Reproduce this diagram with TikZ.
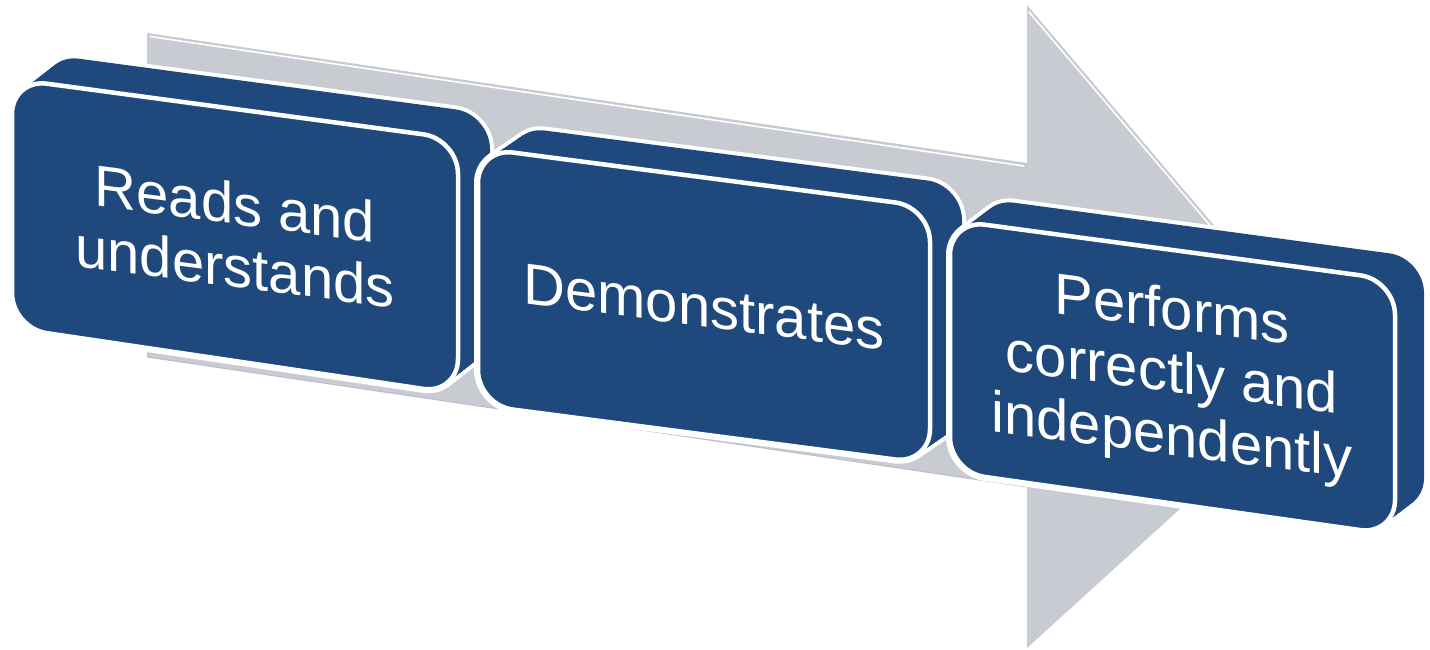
\documentclass[tikz,border=0pt]{standalone}
\usepackage{fontspec}
\setmainfont{Liberation Sans}
\definecolor{boxblue}{HTML}{1F497C}
\definecolor{arrowgrey}{HTML}{C9CBD2}
\definecolor{edgegrey}{HTML}{BDBCCF}
\newcommand\slab[6]{%
  \foreach \i in {0,...,20}{
    \draw[white, line width=8pt, rounded corners=35pt, shift={({\i*(#5)/20},{\i*(#6)/20})}] (#1) -- (#2) -- (#3) -- (#4) -- cycle;
  }
  \foreach \i in {0,...,20}{
    \fill[boxblue, rounded corners=35pt, shift={({\i*(#5)/20},{\i*(#6)/20})}] (#1) -- (#2) -- (#3) -- (#4) -- cycle;
  }
  \draw[face] (#1) -- (#2) -- (#3) -- (#4) -- cycle;
}
\begin{document}
\begin{tikzpicture}[x=1pt,y=-1pt,
  face/.style={fill=boxblue, draw=white, line width=4.5pt, rounded corners=35pt},
  boxlabel/.style={text=white, font=\fontsize{58}{63}\selectfont, align=center, yslant=-0.13, inner sep=0pt},
  bevel/.style={white, line width=1.6pt}]
\useasboundingbox (0,0) rectangle (1430,650);
% background arrow
\fill[arrowgrey] (147,33) -- (1027,163) -- (1027,5) -- (1335,368) -- (1027,648) -- (1027,487) -- (147,357) -- cycle;
\draw[bevel] (150,36.5) -- (1024,166);
\draw[bevel] (1028.5,11.4) -- (1283.5,312);
\draw[edgegrey, line width=1pt] (147,357) -- (1027,487);
% boxes
\slab{12,79}{458,139}{458,394}{12,328}{32}{-25}
\slab{478,148}{930,207}{930,464}{478,405}{32}{-22}
\slab{950,220}{1395,280}{1395,535}{950,472}{29}{-22}
% labels
\node[boxlabel] (t1) at (235,235) {Reads and\\understands};
\node[boxlabel] (t2) at (704,307) {Demonstrates};
\node[boxlabel] (t3) at (1172,377) {Performs\\correctly and\\independently};
\end{tikzpicture}
\end{document}
